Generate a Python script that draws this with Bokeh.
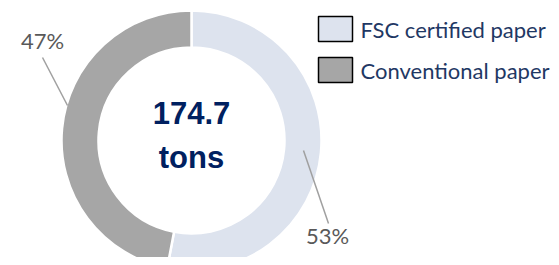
import numpy as np
from bokeh.plotting import figure
from bokeh.models import Range1d, ColumnDataSource
from bokeh.core.properties import value
from bokeh.embed import file_html
from bokeh.resources import INLINE

# ---- data ----
categories = ["FSC certified paper", "Conventional paper"]
shares = [53, 47]
colors = ["#DDE3EE", "#A6A6A6"]
total_label = ["174.7", "tons"]

# ---- layout (reference pixels -> data) ----
W, H = 551, 257
def Y(py):
    return H - py

p = figure(width=W, height=H, output_backend="svg", toolbar_location=None,
           x_range=Range1d(0, W), y_range=Range1d(0, H), min_border=0)
p.axis.visible = False
p.grid.visible = False
p.outline_line_color = None
p.background_fill_color = "white"
p.border_fill_color = "white"

cx, cy = 191, Y(140)
r_in, r_out = 93, 130

frac = np.array(shares, dtype=float) / sum(shares)
cum = np.concatenate([[0], np.cumsum(frac)])
start = np.pi / 2 - cum[:-1] * 2 * np.pi
end = np.pi / 2 - cum[1:] * 2 * np.pi
src = ColumnDataSource(dict(start=start, end=end, color=colors, cat=categories))
p.annular_wedge(x=cx, y=cy, inner_radius=r_in, outer_radius=r_out,
                start_angle="start", end_angle="end", direction="clock",
                fill_color="color", line_color="white", line_width=2.5, source=src)

# leader lines and percent labels
lab_pos = [(327, 235), (42, 40)]
line_pts = [((303, 150), (328, 223)), ((67, 105), (42, 57))]
for (a, b) in line_pts:
    p.line([a[0], b[0]], [Y(a[1]), Y(b[1])], line_color="#A0A0A0", line_width=1.5)
p.text(x=[q[0] for q in lab_pos], y=[Y(q[1]) for q in lab_pos],
       text=[f"{s}%" for s in shares], text_align="center", text_baseline="middle",
       text_font=value("Lato"), text_font_size="22px", text_color="#595959")

# center text
p.text(x=[cx, cx], y=[Y(112), Y(157)], text=total_label, text_align="center",
       text_baseline="middle", text_font=value("Liberation Sans"),
       text_font_style="bold", text_font_size="31px", text_color="#002060")

# legend
leg_y = [Y(28.5), Y(69.5)]
p.rect(x=[335, 335], y=leg_y, width=34, height=25, width_units="screen",
       height_units="screen", fill_color=colors, line_color="black", line_width=1.5)
p.text(x=[360, 360], y=leg_y, text=categories, text_align="left", text_baseline="middle",
       text_font=value("Lato"), text_font_size="22px", text_color="#1F3864")

open("out.html", "w").write(file_html(p, INLINE))
